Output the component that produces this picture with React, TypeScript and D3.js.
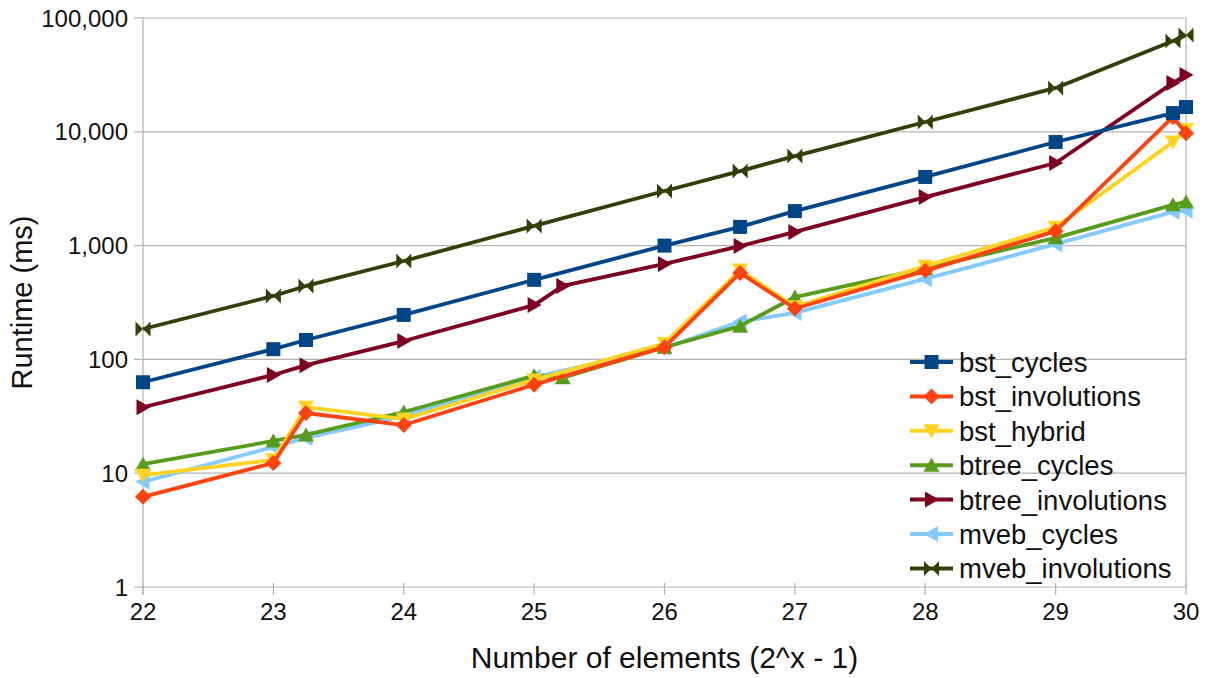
import React from "react";
import * as d3 from "d3";

// Element counts as powers of two (x in 2^x - 1); 23.25, 26.58 and 29.9 are 10^7, 10^8, 10^9
const sizesMain = [22, 23, 23.25, 24, 25, 26, 26.58, 27, 28, 29, 29.9, 30];
const sizesBtree = [22, 23, 23.25, 24, 25, 25.22, 26, 26.58, 27, 28, 29, 29.9, 30];

// Runtimes in milliseconds
const bstCycles = [63, 123, 148, 246, 500, 1000, 1460, 2010, 4010, 8130, 14600, 16500];
const bstInvolutions = [6.2, 12.3, 33.8, 26.5, 60, 128, 575, 280, 600, 1340, 13500, 9700];
const bstHybrid = [9.6, 13.1, 38, 29.9, 66, 138, 610, 290, 660, 1450, 8150, 10500];
const btreeCycles = [12, 19.2, 21.7, 34.5, 72, 69, 128, 196, 353, 630, 1170, 2280, 2420];
const btreeInvolutions = [38, 73, 89, 145, 300, 442, 690, 990, 1320, 2670, 5320, 26900, 31500];
const mvebCycles = [8.4, 17, 20.4, 31.8, 70, 126, 215, 256, 510, 1030, 1980, 2020];
const mvebInvolutions = [185, 361, 442, 732, 1490, 3020, 4520, 6120, 12200, 24300, 62800, 70900];

const yTicks = [1, 10, 100, 1000, 10000, 100000];
const xTicks = [22, 23, 24, 25, 26, 27, 28, 29, 30];

type Shape = "square" | "diamond" | "down" | "up" | "right" | "left" | "bowtie";

const series: { name: string; color: string; shape: Shape; xs: number[]; ys: number[] }[] = [
  { name: "bst_cycles", color: "#004586", shape: "square", xs: sizesMain, ys: bstCycles },
  { name: "bst_involutions", color: "#ff420e", shape: "diamond", xs: sizesMain, ys: bstInvolutions },
  { name: "bst_hybrid", color: "#ffd320", shape: "down", xs: sizesMain, ys: bstHybrid },
  { name: "btree_cycles", color: "#579d1c", shape: "up", xs: sizesBtree, ys: btreeCycles },
  { name: "btree_involutions", color: "#7e0021", shape: "right", xs: sizesBtree, ys: btreeInvolutions },
  { name: "mveb_cycles", color: "#83caff", shape: "left", xs: sizesMain, ys: mvebCycles },
  { name: "mveb_involutions", color: "#314004", shape: "bowtie", xs: sizesMain, ys: mvebInvolutions },
];

const W = 1206;
const H = 678;
const left = 143;
const right = 1186;
const top = 18;
const bottom = 587;

const x = d3.scaleLinear().domain([22, 30]).range([left, right]);
const y = d3.scaleLog().domain([1, 100000]).range([bottom, top]);
const fmt = d3.format(",");

function markerPath(shape: Shape, cx: number, cy: number): string {
  const s = 7.5;
  switch (shape) {
    case "square":
      return `M${cx - 7},${cy - 7}h14v14h-14Z`;
    case "diamond":
      return `M${cx},${cy - s - 0.5}L${cx + s + 0.5},${cy}L${cx},${cy + s + 0.5}L${cx - s - 0.5},${cy}Z`;
    case "down":
      return `M${cx - s - 0.5},${cy - 6.5}L${cx + s + 0.5},${cy - 6.5}L${cx},${cy + 7.5}Z`;
    case "up":
      return `M${cx - s - 0.5},${cy + 6.5}L${cx + s + 0.5},${cy + 6.5}L${cx},${cy - 7.5}Z`;
    case "right":
      return `M${cx - 6.5},${cy - s - 0.5}L${cx - 6.5},${cy + s + 0.5}L${cx + 7.5},${cy}Z`;
    case "left":
      return `M${cx + 6.5},${cy - s - 0.5}L${cx + 6.5},${cy + s + 0.5}L${cx - 7.5},${cy}Z`;
    case "bowtie":
      return `M${cx - s},${cy - s}L${cx},${cy}L${cx - s},${cy + s}Z M${cx + s},${cy - s}L${cx},${cy}L${cx + s},${cy + s}Z`;
  }
}

const line = d3
  .line<[number, number]>()
  .x((d) => x(d[0]))
  .y((d) => y(d[1]));

const font = "'Liberation Sans', Arial, sans-serif";
const grid = "#b3b3b3";

export default function App() {
  const drawOrder = [...series].reverse();
  const legendX = 910;
  const legendY0 = 362;
  const legendStep = 34.4;
  return (
    <svg
      width={W}
      height={H}
      style={{ position: "absolute", left: 0, top: 0, background: "#fff" }}
      fontFamily={font}
    >
      <rect x={0} y={0} width={W} height={H} fill="#fff" />
      {/* horizontal gridlines and y ticks */}
      {yTicks.map((t) => (
        <g key={t}>
          <line x1={left} x2={right} y1={y(t)} y2={y(t)} stroke={grid} strokeWidth={1.2} />
          <line x1={left - 9} x2={left} y1={y(t)} y2={y(t)} stroke={grid} strokeWidth={1.2} />
          <text x={128} y={y(t)} dy="0.36em" textAnchor="end" fontSize={24} fill="#111">
            {fmt(t)}
          </text>
        </g>
      ))}
      {/* frame */}
      <line x1={left} x2={left} y1={top} y2={bottom + 8} stroke={grid} strokeWidth={1.2} />
      <line x1={right} x2={right} y1={top} y2={bottom} stroke={grid} strokeWidth={1.2} />
      {/* x ticks */}
      {xTicks.map((t) => (
        <g key={t}>
          <line x1={x(t)} x2={x(t)} y1={bottom - 4} y2={bottom + 8} stroke={grid} strokeWidth={1.2} />
          <text x={x(t)} y={620} textAnchor="middle" fontSize={24} fill="#111">
            {t}
          </text>
        </g>
      ))}
      {/* series */}
      {drawOrder.map((s) => {
        const pts = s.xs.map((v, i) => [v, s.ys[i]] as [number, number]);
        return (
          <g key={s.name}>
            <path d={line(pts) ?? ""} fill="none" stroke={s.color} strokeWidth={3.8} strokeLinejoin="round" />
            {pts.map((p, i) => (
              <path key={i} d={markerPath(s.shape, x(p[0]), y(p[1]))} fill={s.color} />
            ))}
          </g>
        );
      })}
      {/* axis titles */}
      <text
        transform={`translate(32,${(top + bottom) / 2}) rotate(-90)`}
        textAnchor="middle"
        fontSize={29}
        fill="#111"
      >
        Runtime (ms)
      </text>
      <text x={(left + right) / 2} y={668} textAnchor="middle" fontSize={30} fill="#111">
        Number of elements (2^x - 1)
      </text>
      {/* legend */}
      {series.map((s, i) => {
        const ly = legendY0 + i * legendStep;
        return (
          <g key={s.name}>
            <line x1={legendX} x2={legendX + 43} y1={ly} y2={ly} stroke={s.color} strokeWidth={4} />
            <path d={markerPath(s.shape, legendX + 21.5, ly)} fill={s.color} />
            <text x={legendX + 49} y={ly} dy="0.36em" fontSize={27.5} fill="#111">
              {s.name}
            </text>
          </g>
        );
      })}
    </svg>
  );
}
